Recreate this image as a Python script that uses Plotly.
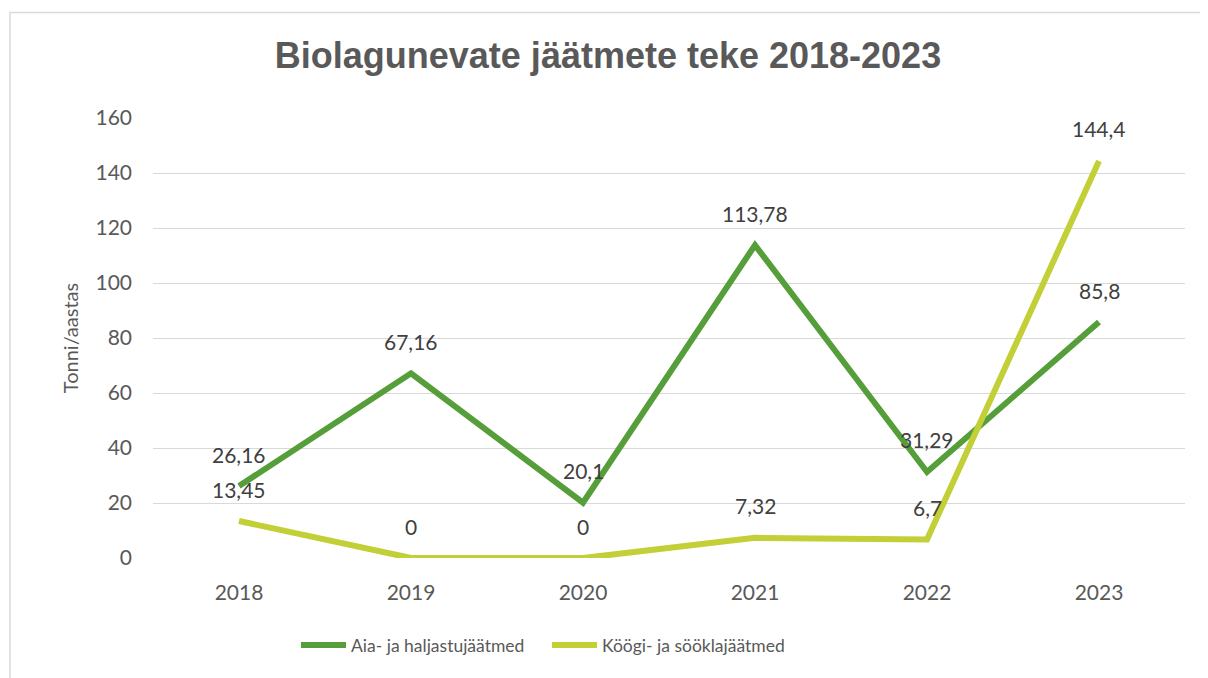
import plotly.graph_objects as go

years = ["2018", "2019", "2020", "2021", "2022", "2023"]
aia = [26.16, 67.16, 20.1, 113.78, 31.29, 85.8]
kook = [13.45, 0, 0, 7.32, 6.7, 144.4]
aia_labels = ["26,16", "67,16", "20,1", "113,78", "31,29", "85,8"]
kook_labels = ["13,45", "0", "0", "7,32", "6,7", "144,4"]
names = ["Aia- ja haljastujäätmed", "Köögi- ja sööklajäätmed"]
colors = ["#559E3A", "#C2CF36"]
yticks = [0, 20, 40, 60, 80, 100, 120, 140, 160]

FONT = "Lato"
GREY = "#595959"

# page has an 8px body margin -> figure is 1200x670 drawn at (8,8)
W, H = 1200, 670
L, R, T, B = 145, 23, 110, 120
PW, PH = W - L - R, H - T - B

fig = go.Figure()
for vals, name, col in [(aia, names[0], colors[0]), (kook, names[1], colors[1])]:
    fig.add_trace(go.Scatter(x=years, y=vals, mode="lines", name=name,
                             line=dict(color=col, width=6)))

anns = []
for vals, labs in [(aia, aia_labels), (kook, kook_labels)]:
    for i, (v, t) in enumerate(zip(vals, labs)):
        anns.append(dict(x=i, y=v, xref="x", yref="y", text=t, showarrow=False,
                         yshift=32, xanchor="center", yanchor="middle",
                         font=dict(family=FONT, size=21, color="#404040")))

fig.update_layout(
    width=W, height=H,
    margin=dict(l=L, r=R, t=T, b=B),
    paper_bgcolor="white", plot_bgcolor="white",
    title=dict(text="<b>Biolagunevate jäätmete teke 2018-2023</b>",
               x=0.5, xanchor="center", y=1 - 47 / H, yanchor="middle",
               font=dict(family="Liberation Sans", size=36, color=GREY)),
    xaxis=dict(type="category", range=[-0.5, 5.5], showgrid=False,
               showline=False, ticks="", zeroline=False, ticklabelstandoff=20,
               tickfont=dict(family=FONT, size=21, color=GREY)),
    yaxis=dict(range=[0, 160], tickvals=yticks, showgrid=True,
               gridcolor="#D9D9D9", gridwidth=1, zeroline=False,
               showline=False, ticks="", ticklabelstandoff=20,
               tickfont=dict(family=FONT, size=21, color=GREY),
               title=dict(text="Tonni/aastas", standoff=11,
                          font=dict(family=FONT, size=20, color=GREY))),
    legend=dict(orientation="h", x=0.5 - 122 / PW, xanchor="center",
                y=(PH + B - 647) / PH, yanchor="middle",
                font=dict(family=FONT, size=17.5, color=GREY),
                itemwidth=45, entrywidth=191, entrywidthmode="pixels",
                traceorder="normal"),
    annotations=anns,
    showlegend=True,
)

fig.add_shape(type="rect", xref="paper", yref="paper",
              x0=(2 - L) / PW, x1=(1210 - L) / PW,
              y0=(PH - 690 + T) / PH, y1=(PH - 4.5 + T) / PH,
              line=dict(color="#D9D9D9", width=1.5), layer="below")

fig.write_html("out.html")
